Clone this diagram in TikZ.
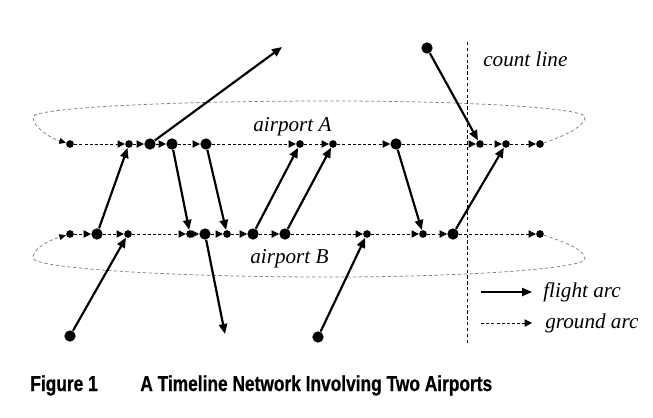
\documentclass[tikz,border=0pt]{standalone}
\usepackage{fontspec}
\setmainfont{Liberation Serif}
\newfontfamily\capfont[FakeStretch=0.8,BoldFeatures={FakeBold=0.6}]{Liberation Sans}
\usetikzlibrary{arrows.meta}

\begin{document}
\begin{tikzpicture}[x=0.6pt, y=-0.6pt,
  bigdot/.style={circle, fill, inner sep=0pt, minimum size=6.8pt},
  smalldot/.style={circle, fill, inner sep=0pt, minimum size=4.6pt},
  flight/.style={line width=1.3pt, -{Triangle[length=6pt,width=5pt]}},
  ground/.style={line width=0.6pt, dash pattern=on 1.8pt off 1.3pt, -{Triangle[length=4.4pt,width=4.4pt]}},
  wrap/.style={gray, line width=0.45pt, dash pattern=on 2pt off 1.5pt, -{Triangle[length=4pt,width=3.5pt,color=black]}},
  countline/.style={line width=0.6pt, dash pattern=on 2pt off 1.5pt},
  lbl/.style={font=\fontsize{12.7}{15}\selectfont\itshape, inner sep=0pt, anchor=base west},
  figcap/.style={font=\fontsize{13}{15}\selectfont\capfont\bfseries, inner sep=0pt, anchor=base west}]

\useasboundingbox (0,0) rectangle (653,417);

% airport A
\node[smalldot] (a1) at (70,144) {};
\node[smalldot] (a2) at (129,144) {};
\node[bigdot] (a3) at (150,144) {};
\node[bigdot] (a4) at (172,144) {};
\node[bigdot] (a5) at (206,144) {};
\node[smalldot] (a6) at (300,144) {};
\node[smalldot] (a7) at (333,144) {};
\node[bigdot] (a8) at (396,144) {};
\node[smalldot] (a9) at (480,144) {};
\node[smalldot] (a10) at (506,144) {};
\node[smalldot] (a11) at (540,144) {};
\draw[ground] (a1) edge (a2);
\draw[ground] (a2) edge (a3);
\draw[ground] (a3) edge (a4);
\draw[ground] (a4) edge (a5);
\draw[ground] (a5) edge (a6);
\draw[ground] (a6) edge (a7);
\draw[ground] (a7) edge (a8);
\draw[ground] (a8) edge (a9);
\draw[ground] (a9) edge (a10);
\draw[ground] (a10) edge (a11);
\draw[wrap] (a11) .. controls (565,136) and (585,126) .. (585,117)
  .. controls (585,108) and (471,101) .. (330,101)
  .. controls (166,101) and (33,108) .. (33,117)
  .. controls (33,127) and (50,138) .. (a1);

% airport B
\node[smalldot] (b1) at (70,234) {};
\node[bigdot] (b2) at (97,234) {};
\node[smalldot] (b3) at (128,234) {};
\node[smalldot] (b4) at (190,234) {};
\node[bigdot] (b5) at (205,234) {};
\node[smalldot] (b6) at (227,234) {};
\node[bigdot] (b7) at (253,234) {};
\node[bigdot] (b8) at (285,234) {};
\node[smalldot] (b9) at (367,234) {};
\node[smalldot] (b10) at (423,234) {};
\node[bigdot] (b11) at (453,234) {};
\node[smalldot] (b12) at (540,234) {};
\draw[ground] (b1) edge (b2);
\draw[ground] (b2) edge (b3);
\draw[ground] (b3) edge (b4);
\draw[ground] (b4) edge (b5);
\draw[ground] (b5) edge (b6);
\draw[ground] (b6) edge (b7);
\draw[ground] (b7) edge (b8);
\draw[ground] (b8) edge (b9);
\draw[ground] (b9) edge (b10);
\draw[ground] (b10) edge (b11);
\draw[ground] (b11) edge (b12);
\draw[wrap] (b12) .. controls (565,242) and (585,250) .. (585,259)
  .. controls (585,268) and (471,277) .. (330,277)
  .. controls (166,277) and (33,268) .. (33,258)
  .. controls (33,248) and (50,240) .. (b1);

% flights in and out of the network
\node[bigdot] (s1) at (427,48) {};
\node[bigdot] (s2) at (70,336) {};
\node[bigdot] (s3) at (318,337) {};
\coordinate (e1) at (282,47);
\coordinate (e2) at (225,334);

\draw[flight] (b2) edge (a2);
\draw[flight] (a3) edge (e1);
\draw[flight] (a4) edge (b4);
\draw[flight] (a5) edge (b6);
\draw[flight] (b7) edge (a6);
\draw[flight] (b8) edge (a7);
\draw[flight] (a8) edge (b10);
\draw[flight] (s1) edge (a9);
\draw[flight] (b11) edge (a10);
\draw[flight] (s2) edge (b3);
\draw[flight] (b5) edge (e2);
\draw[flight] (s3) edge (b9);

% count line
\coordinate (ctop) at (467,42);
\coordinate (cbot) at (467,345);
\draw[countline] (ctop) -- (cbot);

\node[lbl] (labA) at (253,131) {airport A};
\node[lbl] (labB) at (250,263) {airport B};
\node[lbl] (labC) at (483,66) {count line};

% legend
\coordinate (f1) at (481,292);
\coordinate (f2) at (532,292);
\coordinate (g1) at (481,323);
\coordinate (g2) at (532,323);
\draw[flight, line width=0.8pt] (f1) -- (f2);
\draw[ground, line width=0.5pt] (g1) -- (g2);
\node[lbl] (labF) at (543,297) {flight arc};
\node[lbl] (labG) at (545,328) {ground arc};

\node[figcap] (fig) at (30,391) {Figure 1};
\node[figcap] (title) at (140,391) {A Timeline Network Involving Two Airports};
\end{tikzpicture}
\end{document}
